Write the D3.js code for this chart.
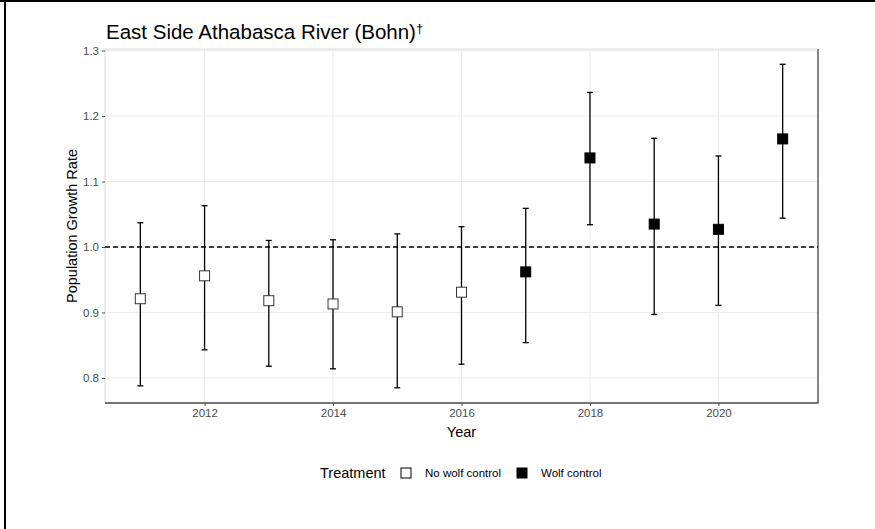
<!DOCTYPE html>
<html>
<head>
<meta charset="utf-8">
<script src="https://cdn.jsdelivr.net/npm/d3@7"></script>
<style>
  body { margin: 0; background: #fff; }
  svg { display: block; font-family: "Liberation Sans", Arial, sans-serif; }
</style>
</head>
<body>
<div id="chart"></div>
<script>
// values
const years = [2011, 2012, 2013, 2014, 2015, 2016, 2017, 2018, 2019, 2020, 2021];
const growth = [0.921, 0.956, 0.918, 0.913, 0.901, 0.931, 0.962, 1.136, 1.035, 1.027, 1.165];
const lower = [0.788, 0.843, 0.818, 0.814, 0.785, 0.821, 0.854, 1.034, 0.897, 0.911, 1.044];
const upper = [1.037, 1.063, 1.010, 1.011, 1.020, 1.031, 1.059, 1.236, 1.166, 1.139, 1.279];
const treatment = ["No wolf control", "No wolf control", "No wolf control", "No wolf control",
  "No wolf control", "No wolf control", "Wolf control", "Wolf control", "Wolf control",
  "Wolf control", "Wolf control"];
const xTicks = [2012, 2014, 2016, 2018, 2020];
const yTicks = [0.8, 0.9, 1.0, 1.1, 1.2, 1.3];
const groups = ["No wolf control", "Wolf control"];

const W = 875, H = 529;
const pL = 105, pR = 818, pT = 49, pB = 403;

const svg = d3.select("#chart").append("svg")
  .attr("width", W)
  .attr("height", H);

// outer frame (top + left edge only, image is cropped)
svg.append("rect").attr("x", 0).attr("y", 0).attr("width", W).attr("height", 2).attr("fill", "#000");
svg.append("rect").attr("x", 4).attr("y", 0).attr("width", 2).attr("height", H).attr("fill", "#000");

const x = d3.scaleLinear().domain([2010.45, 2021.55]).range([pL, pR]);
const y = d3.scaleLinear().domain([0.7618, 1.3023]).range([pB, pT]);

const fillScale = d3.scaleOrdinal().domain(groups).range(["#fff", "#000"]);

const data = years.map((yr, i) => ({
  year: yr, g: growth[i], lo: lower[i], hi: upper[i], t: treatment[i]
}));

// grid
const grid = svg.append("g");
grid.selectAll(".gx").data(xTicks).join("line")
  .attr("x1", d => x(d)).attr("x2", d => x(d))
  .attr("y1", pT).attr("y2", pB)
  .attr("stroke", "#ebebeb").attr("stroke-width", 1.1);
grid.selectAll(".gy").data(yTicks).join("line")
  .attr("x1", pL).attr("x2", pR)
  .attr("y1", d => y(d)).attr("y2", d => y(d))
  .attr("stroke", "#ebebeb").attr("stroke-width", 1.1);

// panel border: light top/left, dark right/bottom
svg.append("rect")
  .attr("x", pL).attr("y", pT)
  .attr("width", pR - pL).attr("height", pB - pT)
  .attr("fill", "none").attr("stroke", "#dcdcdc").attr("stroke-width", 1);
svg.append("path")
  .attr("d", `M${pR},${pT}V${pB}H${pL}`)
  .attr("fill", "none").attr("stroke", "#4d4d4d").attr("stroke-width", 1.3);

// reference line at 1
svg.append("line")
  .attr("x1", pL).attr("x2", pR)
  .attr("y1", y(1)).attr("y2", y(1))
  .attr("stroke", "#000").attr("stroke-width", 1.3)
  .attr("stroke-dasharray", "5,3");

// axes
const xAxis = svg.append("g")
  .attr("transform", `translate(0,${pB})`)
  .call(d3.axisBottom(x).tickValues(xTicks).tickFormat(d3.format("d")).tickSize(3).tickPadding(3));
const yAxis = svg.append("g")
  .attr("transform", `translate(${pL},0)`)
  .call(d3.axisLeft(y).tickValues(yTicks).tickFormat(d3.format(".1f")).tickSize(3).tickPadding(3));
[xAxis, yAxis].forEach(a => {
  a.select(".domain").remove();
  a.selectAll(".tick line").attr("stroke", "#4d4d4d");
  a.selectAll(".tick text")
    .attr("fill", "#4d4d4d")
    .style("font-size", "11.5px")
    .style("font-family", "'Liberation Sans', Arial, sans-serif");
});

// error bars
const cap = 3;
const bars = svg.append("g").selectAll("g").data(data).join("g");
bars.append("line")
  .attr("x1", d => x(d.year)).attr("x2", d => x(d.year))
  .attr("y1", d => y(d.lo)).attr("y2", d => y(d.hi))
  .attr("stroke", "#000").attr("stroke-width", 1.3);
bars.append("line")
  .attr("x1", d => x(d.year) - cap).attr("x2", d => x(d.year) + cap)
  .attr("y1", d => y(d.hi)).attr("y2", d => y(d.hi))
  .attr("stroke", "#000").attr("stroke-width", 1.3);
bars.append("line")
  .attr("x1", d => x(d.year) - cap).attr("x2", d => x(d.year) + cap)
  .attr("y1", d => y(d.lo)).attr("y2", d => y(d.lo))
  .attr("stroke", "#000").attr("stroke-width", 1.3);

// points
const s = 10;
svg.append("g").selectAll("rect").data(data).join("rect")
  .attr("x", d => x(d.year) - s / 2)
  .attr("y", d => y(d.g) - s / 2)
  .attr("width", s).attr("height", s)
  .attr("fill", d => fillScale(d.t))
  .attr("stroke", d => d.t === "Wolf control" ? "#000" : "#333")
  .attr("stroke-width", 1);

// title
svg.append("text")
  .attr("x", 106).attr("y", 39)
  .style("font-size", "20.5px")
  .attr("fill", "#000")
  .text("East Side Athabasca River (Bohn)")
  .append("tspan")
  .attr("dy", -6)
  .style("font-size", "13px")
  .text("†");

// axis titles
svg.append("text")
  .attr("x", (pL + pR) / 2).attr("y", 437)
  .attr("text-anchor", "middle")
  .style("font-size", "14.5px")
  .text("Year");
svg.append("text")
  .attr("transform", `translate(77,${(pT + pB) / 2}) rotate(-90)`)
  .attr("text-anchor", "middle")
  .style("font-size", "14.5px")
  .text("Population Growth Rate");

// legend
const lg = svg.append("g").attr("transform", "translate(0,473)");
lg.append("text").attr("x", 320).attr("y", 5)
  .style("font-size", "14.5px").text("Treatment");
const items = [{ k: groups[0], bx: 401, tx: 425 }, { k: groups[1], bx: 517, tx: 541 }];
items.forEach(it => {
  lg.append("rect")
    .attr("x", it.bx).attr("y", -5)
    .attr("width", 10).attr("height", 10)
    .attr("fill", fillScale(it.k))
    .attr("stroke", "#000").attr("stroke-width", 1);
  lg.append("text").attr("x", it.tx).attr("y", 4)
    .style("font-size", "11.5px").text(it.k);
});
</script>
</body>
</html>
